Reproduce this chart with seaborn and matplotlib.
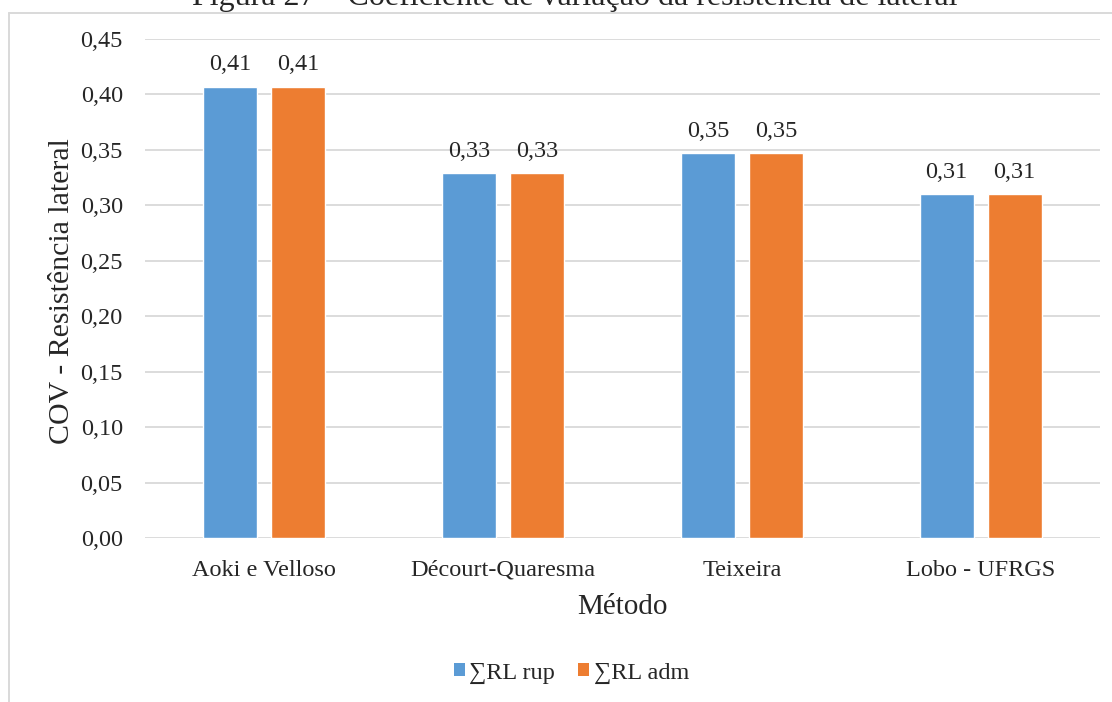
import matplotlib
matplotlib.use("Agg")
import matplotlib.pyplot as plt
from matplotlib.lines import Line2D
from matplotlib.patches import Patch
import pandas as pd
import seaborn as sns

# --- data -------------------------------------------------------------
metodos = ["Aoki e Velloso", "Décourt-Quaresma", "Teixeira", "Lobo - UFRGS"]
series = ["∑RL rup", "∑RL adm"]
cov_rup = [0.407, 0.329, 0.347, 0.310]
cov_adm = [0.407, 0.329, 0.347, 0.310]
yticks = [0.00, 0.05, 0.10, 0.15, 0.20, 0.25, 0.30, 0.35, 0.40, 0.45]

titulo = "Figura 27 – Coeficiente de variação da resistência de lateral"
ylabel = "COV - Resistência lateral"
xlabel = "Método"

cores = ["#5B9BD5", "#ED7D31"]
cinza = "#D9D9D9"

df = pd.DataFrame({
    "Método": metodos * 2,
    "Série": [series[0]] * len(metodos) + [series[1]] * len(metodos),
    "COV": cov_rup + cov_adm,
})

# --- style ------------------------------------------------------------
sns.set_style("white")
plt.rcParams["font.family"] = ["Liberation Serif", "DejaVu Serif"]
fs = 17.5

fig = plt.figure(figsize=(11.12, 7.02), dpi=100)
fig.patch.set_facecolor("white")
ax = fig.add_axes([145 / 1112, 1 - 538 / 702, 955 / 1112, 499 / 702])

sns.barplot(data=df, x="Método", y="COV", hue="Série", hue_order=series,
            palette=cores, saturation=1, width=0.57, gap=0.207,
            errorbar=None, legend=False, ax=ax)

ax.set_ylim(0, 0.45)
ax.set_xlim(-0.5, len(metodos) - 0.5)
ax.set_yticks(yticks)
ax.set_yticklabels([f"{v:.2f}".replace(".", ",") for v in yticks], fontsize=fs)
ax.tick_params(axis="x", labelsize=fs, length=0, pad=15.5)
ax.tick_params(axis="y", length=0, pad=16)
ax.yaxis.grid(True, color=cinza, lw=1.3)
ax.xaxis.grid(False)
ax.set_axisbelow(True)
for s in ax.spines.values():
    s.set_visible(False)

for cont in ax.containers:
    ax.bar_label(cont, labels=[f"{b.get_height():.2f}".replace(".", ",") for b in cont],
                 padding=8.3, fontsize=fs)

ax.set_xlabel(xlabel, fontsize=21)
ax.set_ylabel(ylabel, fontsize=21.5)
ax.xaxis.set_label_coords(0.5, -0.112)
ax.yaxis.set_label_coords(-0.0738, 0.495)

# legend with square markers below the chart
handles = [Patch(facecolor=c, edgecolor="none") for c in cores]
fig.legend(handles, series, loc="center", bbox_to_anchor=(0.514, 0.0413),
           ncol=2, frameon=False, fontsize=fs, handlelength=0.45,
           handleheight=0.45, handletextpad=0.2, columnspacing=0.95,
           borderpad=0)

# chart frame (left and top edges) and caption above it
fig.add_artist(Line2D([8.5 / 1112, 8.5 / 1112], [0, 1 - 12.5 / 702],
                      color=cinza, lw=1.4, transform=fig.transFigure))
fig.add_artist(Line2D([8.5 / 1112, 1], [1 - 12.5 / 702, 1 - 12.5 / 702],
                      color=cinza, lw=1.4, transform=fig.transFigure))
fig.text(575 / 1112, 1 - 5.5 / 702, titulo, ha="center", va="baseline",
         fontsize=23)

fig.savefig("out.png", dpi=100, facecolor="white")
